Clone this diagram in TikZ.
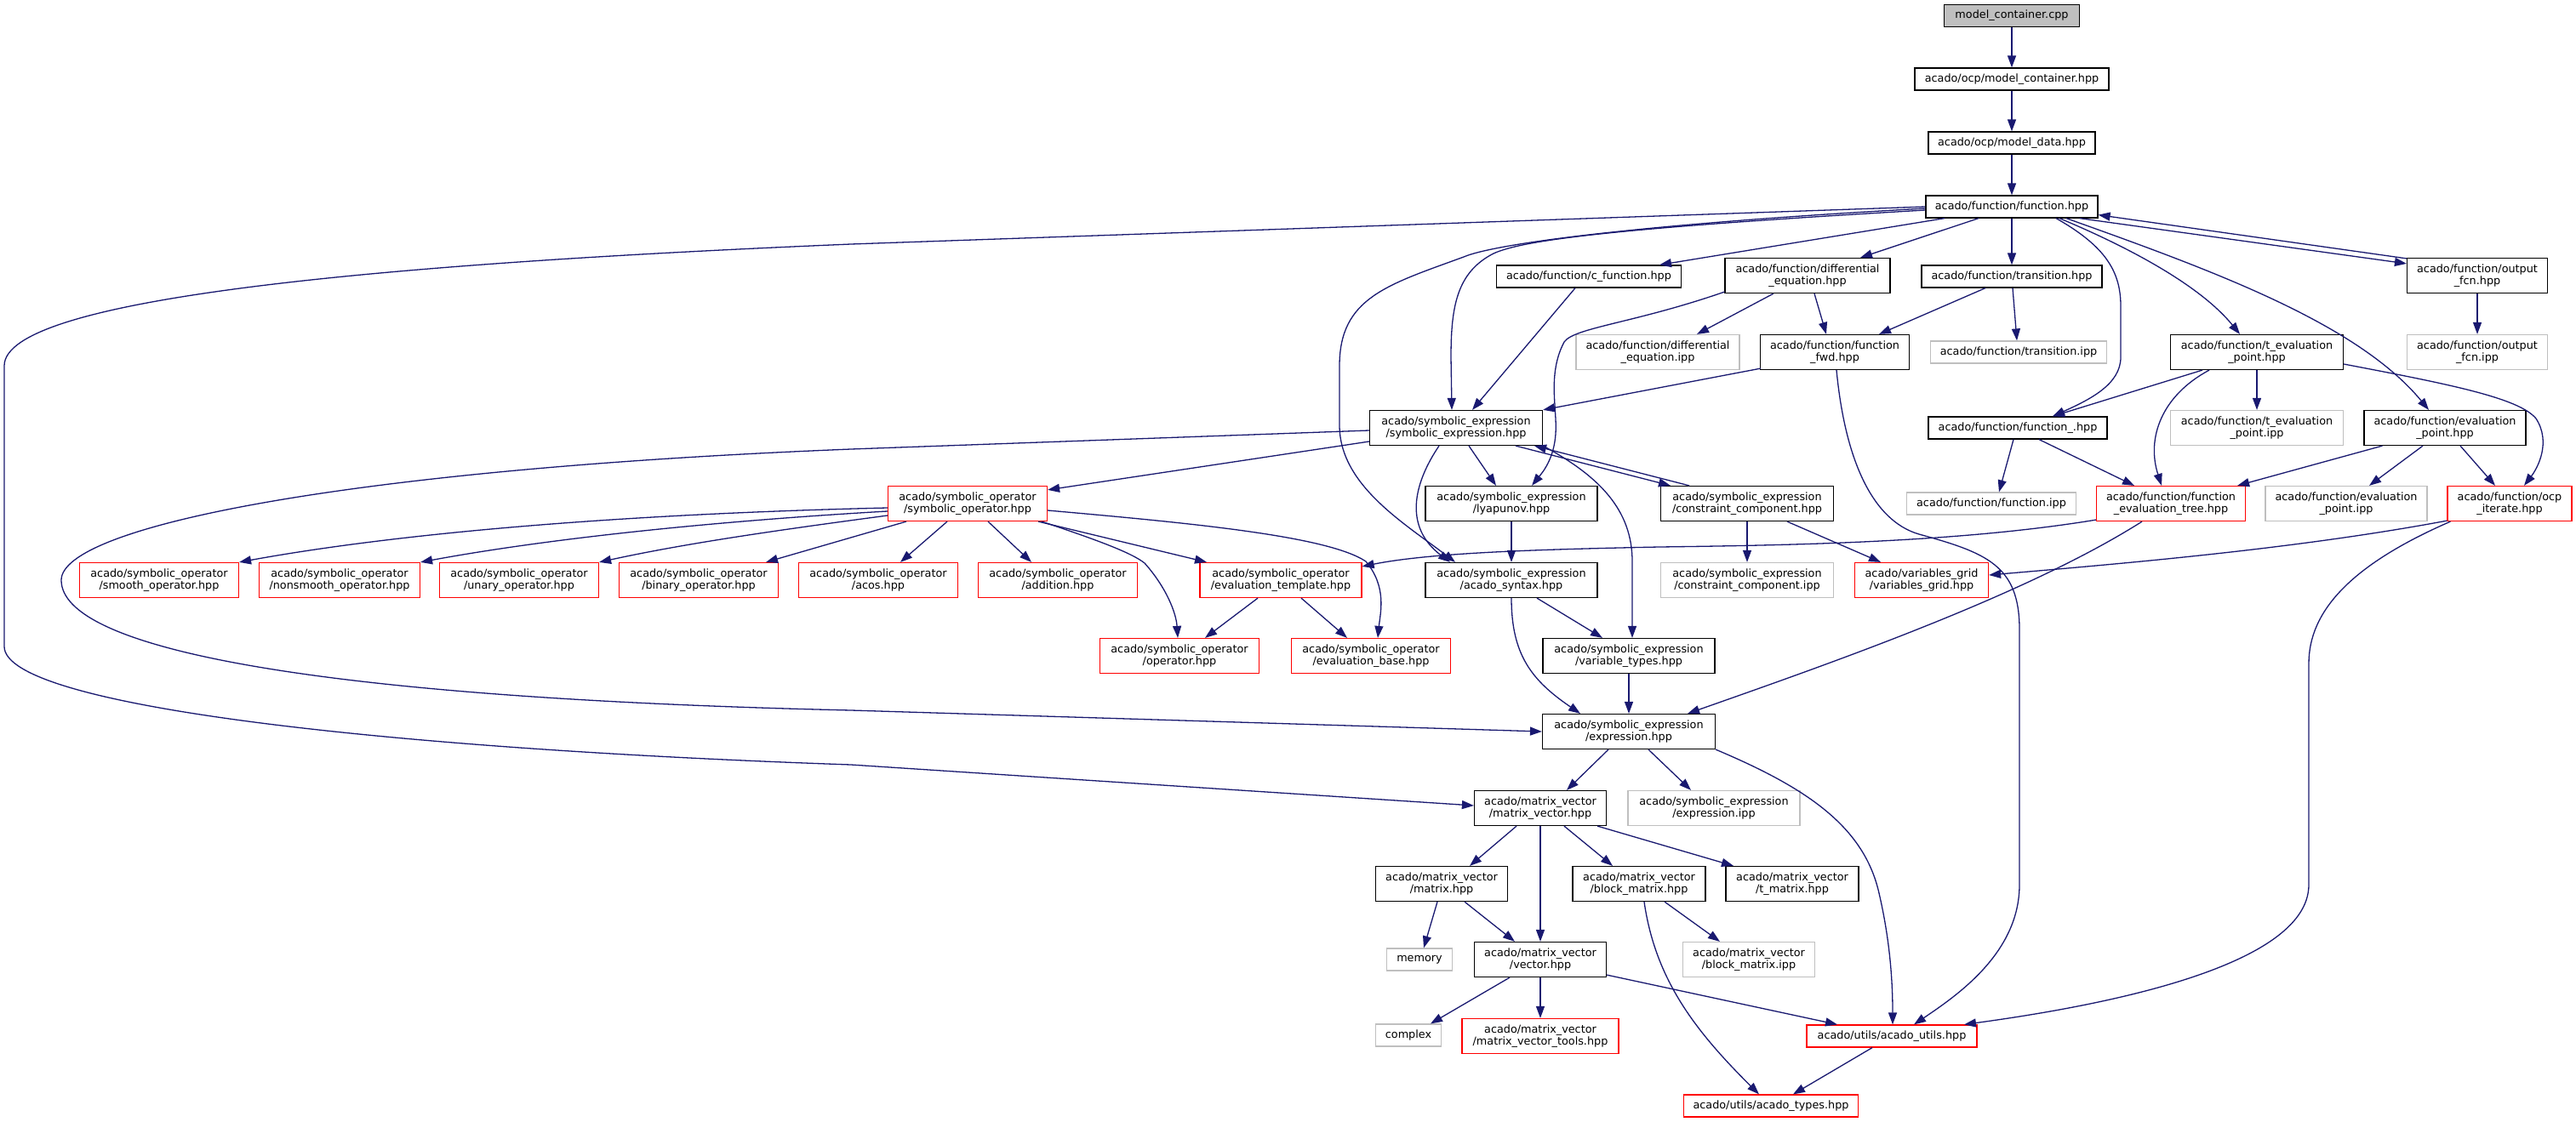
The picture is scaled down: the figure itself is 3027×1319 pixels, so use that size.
\documentclass[tikz,border=0pt]{standalone}
\usepackage{fontspec}
\setmainfont{DejaVu Sans}
\usetikzlibrary{calc,arrows.meta}
\definecolor{edgec}{HTML}{191970}
\definecolor{greyb}{HTML}{BFBFBF}
\definecolor{rootf}{HTML}{BFBFBF}
\definecolor{redb}{HTML}{FF0000}
\newcommand{\nodefont}{\fontsize{12.8}{14.5}\selectfont}
\tikzset{
  nd/.style={draw=black, fill=white, line width=1.2pt, minimum height=26pt, inner sep=0pt, align=center, font=\nodefont, text=black},
  nd2/.style={nd, minimum height=41pt},
  rootnd/.style={nd, fill=rootf},
  rd/.style={draw=redb},
  gr/.style={draw=greyb},
  ed/.style={draw=edgec, line width=1.3pt, -{Triangle[length=14pt,width=10pt]}}
}
\begin{document}
\begin{tikzpicture}[x=1pt,y=-1pt]
\useasboundingbox (0,0) rectangle (3027,1319);
\fill[white] (0,0) rectangle (3027,1319);
% nodes
\node[rootnd, minimum width=159pt] (root) at (2364,18.5) {model\_container.cpp};
\node[nd, minimum width=228pt] (mch) at (2364,93) {acado/ocp/model\_container.hpp};
\node[nd, minimum width=196pt] (mdh) at (2364,168) {acado/ocp/model\_data.hpp};
\node[nd, minimum width=202pt] (fh) at (2364,243) {acado/function/function.hpp};
\node[nd, minimum width=217pt] (cfh) at (1867,325) {acado/function/c\_function.hpp};
\node[nd2, minimum width=194pt] (deh) at (2124,324) {acado/function/differential\\\_equation.hpp};
\node[nd, minimum width=212pt] (trh) at (2364,325) {acado/function/transition.hpp};
\node[nd2, minimum width=165pt] (ofh) at (2911,324) {acado/function/output\\\_fcn.hpp};
\node[nd2, gr, minimum width=192pt] (dei) at (1948,414) {acado/function/differential\\\_equation.ipp};
\node[nd2, minimum width=175pt] (ffh) at (2156,414) {acado/function/function\\\_fwd.hpp};
\node[nd, gr, minimum width=207pt] (tri) at (2372,414) {acado/function/transition.ipp};
\node[nd2, minimum width=203pt] (teh) at (2652,414) {acado/function/t\_evaluation\\\_point.hpp};
\node[nd2, gr, minimum width=165pt] (ofi) at (2911,414) {acado/function/output\\\_fcn.ipp};
\node[nd2, minimum width=203pt] (seh) at (1711,503) {acado/symbolic\_expression\\/symbolic\_expression.hpp};
\node[nd, minimum width=210pt] (fuh) at (2371,503) {acado/function/function\_.hpp};
\node[nd2, gr, minimum width=203pt] (tei) at (2652,503) {acado/function/t\_evaluation\\\_point.ipp};
\node[nd2, minimum width=190pt] (eph) at (2873,503) {acado/function/evaluation\\\_point.hpp};
\node[nd2, rd, minimum width=187pt] (soh) at (1137,592) {acado/symbolic\_operator\\/symbolic\_operator.hpp};
\node[nd2, minimum width=202pt] (lyh) at (1776,592) {acado/symbolic\_expression\\/lyapunov.hpp};
\node[nd2, minimum width=203pt] (cch) at (2053,592) {acado/symbolic\_expression\\/constraint\_component.hpp};
\node[nd, gr, minimum width=199pt] (fi) at (2340,592) {acado/function/function.ipp};
\node[nd2, rd, minimum width=175pt] (feth) at (2551,592) {acado/function/function\\\_evaluation\_tree.hpp};
\node[nd2, gr, minimum width=190pt] (epi) at (2757,592) {acado/function/evaluation\\\_point.ipp};
\node[nd2, rd, minimum width=146pt] (oih) at (2949,592) {acado/function/ocp\\\_iterate.hpp};
\node[nd2, rd, minimum width=187pt] (smo) at (187,682) {acado/symbolic\_operator\\/smooth\_operator.hpp};
\node[nd2, rd, minimum width=189pt] (nsm) at (399,682) {acado/symbolic\_operator\\/nonsmooth\_operator.hpp};
\node[nd2, rd, minimum width=187pt] (una) at (610,682) {acado/symbolic\_operator\\/unary\_operator.hpp};
\node[nd2, rd, minimum width=187pt] (bin) at (821,682) {acado/symbolic\_operator\\/binary\_operator.hpp};
\node[nd2, rd, minimum width=187pt] (aco) at (1032,682) {acado/symbolic\_operator\\/acos.hpp};
\node[nd2, rd, minimum width=187pt] (add) at (1243,682) {acado/symbolic\_operator\\/addition.hpp};
\node[nd2, rd, minimum width=190pt] (etp) at (1505,682) {acado/symbolic\_operator\\/evaluation\_template.hpp};
\node[nd2, minimum width=202pt] (ash) at (1776,682) {acado/symbolic\_expression\\/acado\_syntax.hpp};
\node[nd2, gr, minimum width=203pt] (cci) at (2053,682) {acado/symbolic\_expression\\/constraint\_component.ipp};
\node[nd2, rd, minimum width=157pt] (vg) at (2258,682) {acado/variables\_grid\\/variables\_grid.hpp};
\node[nd2, rd, minimum width=187pt] (op) at (1386,771) {acado/symbolic\_operator\\/operator.hpp};
\node[nd2, rd, minimum width=187pt] (evb) at (1611,771) {acado/symbolic\_operator\\/evaluation\_base.hpp};
\node[nd2, minimum width=202pt] (vt) at (1914,771) {acado/symbolic\_expression\\/variable\_types.hpp};
\node[nd2, minimum width=203pt] (expr) at (1914,860) {acado/symbolic\_expression\\/expression.hpp};
\node[nd2, minimum width=155pt] (mvh) at (1810,950) {acado/matrix\_vector\\/matrix\_vector.hpp};
\node[nd2, gr, minimum width=202pt] (expi) at (2014,950) {acado/symbolic\_expression\\/expression.ipp};
\node[nd2, minimum width=155pt] (mh) at (1694,1039) {acado/matrix\_vector\\/matrix.hpp};
\node[nd2, minimum width=156pt] (bmh) at (1926,1039) {acado/matrix\_vector\\/block\_matrix.hpp};
\node[nd2, minimum width=156pt] (tmh) at (2106,1039) {acado/matrix\_vector\\/t\_matrix.hpp};
\node[nd, gr, minimum width=77pt] (mem) at (1668,1128) {memory};
\node[nd2, minimum width=155pt] (vh) at (1810,1128) {acado/matrix\_vector\\/vector.hpp};
\node[nd2, gr, minimum width=155pt] (bmi) at (2055,1128) {acado/matrix\_vector\\/block\_matrix.ipp};
\node[nd, gr, minimum width=77pt] (cx) at (1655,1217) {complex};
\node[nd2, rd, minimum width=184pt] (mvt) at (1810,1218) {acado/matrix\_vector\\/matrix\_vector\_tools.hpp};
\node[nd, rd, minimum width=200pt] (auh) at (2223,1218) {acado/utils/acado\_utils.hpp};
\node[nd, rd, minimum width=205pt] (ath) at (2081,1300) {acado/utils/acado\_types.hpp};
% edges
\draw[ed] (root) -- (mch);
\draw[ed] (mch) -- (mdh);
\draw[ed] (mdh) -- (fh);
\draw[ed] ($(fh.south)+(-79,0)$) -- ($(cfh.north)+(83,0)$);
\draw[ed] ($(fh.south)+(-39,0)$) -- ($(deh.north)+(62,0)$);
\draw[ed] (fh) -- (trh);
\draw[ed] ($(fh.west)+(0,4)$) .. controls (1900,268) and (1790,282) .. (1755,298) .. controls (1712,320) and (1705,360) .. (1705,420) -- ($(seh.north)+(-5,0)$);
\draw[ed] ($(fh.west)+(0,2)$) .. controls (1950,262) and (1760,285) .. (1720,302) .. controls (1630,335) and (1574,350) .. (1574,430) -- (1574,500) .. controls (1574,570) and (1650,615) .. ($(ash.north)+(-66,0)$);
\draw[ed] (fh.west) -- (1000,287) .. controls (450,310) and (5,350) .. (5,430) -- (5,760) .. controls (5,830) and (450,880) .. (1000,899) -- ($(mvh.west)+(0,-3)$);
\draw[ed] ($(fh.south)+(52,0)$) .. controls (2475,290) and (2492,320) .. (2492,360) -- (2492,420) .. controls (2492,452) and (2455,470) .. ($(fuh.north)+(41,0)$);
\draw[ed] ($(fh.south)+(56,0)$) .. controls (2500,290) and (2585,335) .. ($(teh.north)+(-20,0)$);
\draw[ed] ($(fh.south)+(64,0)$) .. controls (2600,318) and (2770,380) .. ($(eph.north)+(-19,0)$);
\draw[ed] ($(fh.south east)+(-22,0)$) -- ($(ofh.north west)+(0,7)$);
\draw[ed] ($(ofh.north west)+(0,1)$) -- ($(fh.south east)+(0,-4)$);
\draw[ed] (ofh) -- (ofi);
\draw[ed] ($(cfh.south)+(-16,0)$) -- ($(seh.north)+(19,0)$);
\draw[ed] ($(deh.south)+(-40,0)$) -- ($(dei.north)+(46,0)$);
\draw[ed] ($(deh.south)+(8,0)$) -- ($(ffh.north)+(-10,0)$);
\draw[ed] ($(deh.south west)+(0,-2)$) .. controls (1920,380) and (1850,385) .. (1838,402) .. controls (1818,440) and (1830,480) .. (1828,510) .. controls (1826,540) and (1812,556) .. ($(lyh.north)+(24,0)$);
\draw[ed] ($(trh.south)+(-31,0)$) -- ($(ffh.north)+(52,0)$);
\draw[ed] ($(trh.south)+(1,0)$) -- ($(tri.north)+(-2,0)$);
\draw[ed] ($(ffh.south west)+(1,-2)$) -- (seh.north east);
\draw[ed] ($(ffh.south)+(2,0)$) .. controls (2168,540) and (2200,612) .. (2255,628) .. controls (2335,650) and (2373,665) .. (2373,740) -- (2373,1040) .. controls (2373,1120) and (2300,1170) .. ($(auh.north)+(26,0)$);
\draw[ed] ($(teh.south west)+(38,0)$) -- ($(fuh.north)+(41,0)$);
\draw[ed] ($(teh.south)+(-56,0)$) .. controls (2540,465) and (2522,515) .. ($(feth.north)+(-11,0)$);
\draw[ed] (teh) -- (tei);
\draw[ed] ($(teh.east)+(0,14)$) .. controls (2880,452) and (2960,468) .. (2980,492) .. controls (2998,520) and (2982,550) .. ($(oih.north)+(17,0)$);
\draw[ed] ($(eph.south west)+(22,0)$) -- ($(feth.north east)+(-10,0)$);
\draw[ed] ($(eph.south)+(-26,0)$) -- ($(epi.north)+(27,0)$);
\draw[ed] ($(eph.south)+(18,0)$) -- ($(oih.north)+(-17,0)$);
\draw[ed] ($(fuh.south)+(-5,0)$) -- ($(fi.north)+(9,0)$);
\draw[ed] ($(fuh.south)+(25,0)$) -- ($(feth.north)+(-43,0)$);
\draw[ed] ($(feth.south west)+(0,-2)$) .. controls (2300,638) and (2100,641) .. (1950,643) .. controls (1800,646) and (1680,650) .. ($(etp.north east)+(0,5)$);
\draw[ed] ($(feth.south)+(-34,0)$) .. controls (2380,700) and (2150,780) .. ($(expr.north)+(69,0)$);
\draw[ed] ($(oih.south west)+(0,-1)$) .. controls (2700,645) and (2500,662) .. ($(vg.east)+(0,-6)$);
\draw[ed] ($(oih.south west)+(4,0)$) .. controls (2760,665) and (2713,720) .. (2713,780) -- (2713,1040) .. controls (2713,1140) and (2450,1185) .. ($(auh.north)+(85,0)$);
\draw[ed] ($(cch.south)+(47,0)$) -- ($(vg.north)+(-48,0)$);
\draw[ed] (cch) -- (cci);
\draw[ed] ($(cch.north)+(-68,0)$) -- ($(seh.south)+(92,0)$);
\draw[ed] ($(seh.south)+(70,0)$) -- ($(cch.north)+(-90,0)$);
\draw[ed] ($(seh.south)+(15,0)$) -- ($(lyh.north)+(-18,0)$);
\draw[ed] ($(seh.south)+(-20,0)$) .. controls (1660,570) and (1650,620) .. ($(ash.north)+(-72,0)$);
\draw[ed] (seh.south east) .. controls (1880,560) and (1918,600) .. (1918,660) -- ($(vt.north)+(4,0)$);
\draw[ed] ($(seh.west)+(0,16)$) -- ($(soh.north east)+(0,5)$);
\draw[ed] ($(seh.west)+(0,3)$) -- (1000,528) .. controls (400,552) and (72,620) .. (72,682) .. controls (72,760) and (350,820) .. (1000,835) -- (expr.west);
\draw[ed] ($(soh.west)+(0,5)$) .. controls (700,605) and (450,630) .. (smo.north east);
\draw[ed] ($(soh.west)+(0,9)$) .. controls (850,612) and (650,632) .. (nsm.north east);
\draw[ed] ($(soh.west)+(0,14)$) .. controls (900,625) and (800,640) .. (una.north east);
\draw[ed] ($(soh.south west)+(22,0)$) -- ($(bin.north)+(79,0)$);
\draw[ed] ($(soh.south)+(-24,0)$) -- ($(aco.north)+(26,0)$);
\draw[ed] ($(soh.south)+(24,0)$) -- ($(add.north)+(-31,0)$);
\draw[ed] ($(soh.south east)+(-11,0)$) -- ($(etp.north)+(-87,0)$);
\draw[ed] ($(soh.south east)+(-7,0)$) .. controls (1290,635) and (1330,650) .. (1345,662) .. controls (1370,690) and (1382,720) .. ($(op.north)+(-2,0)$);
\draw[ed] ($(soh.east)+(0,8)$) .. controls (1400,615) and (1560,630) .. (1605,660) .. controls (1630,690) and (1622,720) .. ($(evb.north)+(8,0)$);
\draw[ed] (lyh) -- (ash);
\draw[ed] ($(ash.south)+(30,0)$) -- ($(vt.north)+(-31,0)$);
\draw[ed] (ash.south) .. controls (1776,770) and (1800,800) .. ($(expr.north)+(-57,0)$);
\draw[ed] (vt) -- (expr);
\draw[ed] ($(etp.south)+(-27,0)$) -- ($(op.north)+(30,0)$);
\draw[ed] ($(etp.south)+(24,0)$) -- ($(evb.north)+(-28,0)$);
\draw[ed] ($(expr.south)+(-24,0)$) -- ($(mvh.north)+(31,0)$);
\draw[ed] ($(expr.south)+(23,0)$) -- ($(expi.north)+(-27,0)$);
\draw[ed] (expr.south east) .. controls (2120,925) and (2190,970) .. (2208,1050) .. controls (2222,1110) and (2224,1160) .. ($(auh.north)+(1,0)$);
\draw[ed] ($(mvh.south)+(-28,0)$) -- ($(mh.north)+(33,0)$);
\draw[ed] (mvh) -- (vh);
\draw[ed] ($(mvh.south)+(28,0)$) -- ($(bmh.north)+(-31,0)$);
\draw[ed] ($(mvh.south east)+(-11,0)$) -- ($(tmh.north)+(-69,0)$);
\draw[ed] ($(mh.south)+(-5,0)$) -- ($(mem.north)+(5,0)$);
\draw[ed] ($(mh.south)+(27,0)$) -- ($(vh.north)+(-30,0)$);
\draw[ed] ($(bmh.south)+(30,0)$) -- ($(bmi.north)+(-34,0)$);
\draw[ed] ($(bmh.south)+(6,0)$) .. controls (1945,1150) and (1990,1210) .. ($(ath.north)+(-14,0)$);
\draw[ed] ($(vh.south)+(-36,0)$) -- ($(cx.north)+(26,0)$);
\draw[ed] (vh) -- (mvt);
\draw[ed] ($(vh.south east)+(0,-3)$) -- ($(auh.north)+(-64,0)$);
\draw[ed] ($(auh.south)+(-23,0)$) -- ($(ath.north)+(26,0)$);
\end{tikzpicture}
\end{document}
